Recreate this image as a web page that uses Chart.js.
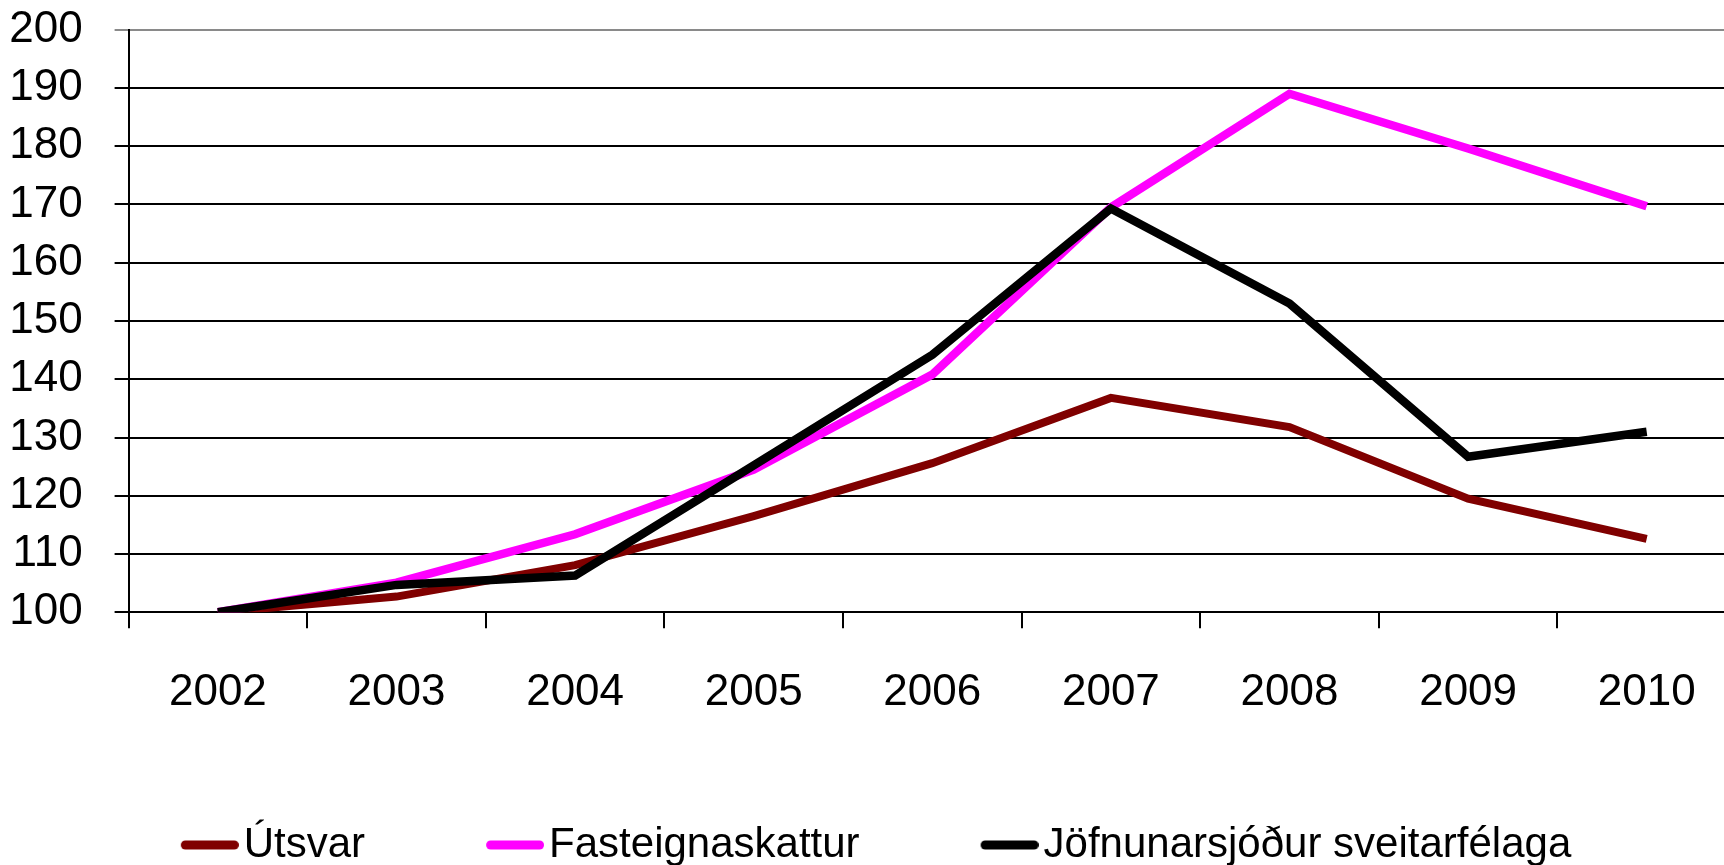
<!DOCTYPE html>
<html>
<head>
<meta charset="utf-8">
<title>Útsvar, fasteignaskattur og Jöfnunarsjóður</title>
<script src="https://cdn.jsdelivr.net/npm/chart.js@4/dist/chart.umd.min.js"></script>
<style>
  html, body { margin: 0; padding: 0; background: #fff; overflow: hidden; }
  #wrap { width: 1724px; height: 865px; overflow: hidden; }
</style>
</head>
<body>
<div id="wrap">
  <canvas id="chart" width="1740" height="876"></canvas>
</div>
<script>
// data (index, 2002 = 100)
var years = ['2002', '2003', '2004', '2005', '2006', '2007', '2008', '2009', '2010'];
var utsvar = [100, 102.7, 108.1, 116.5, 125.6, 136.8, 131.8, 119.5, 112.6];
var fasteignaskattur = [100, 105.1, 113.4, 124.5, 140.8, 169.5, 189.0, 179.6, 169.7];
var jofnunarsjodur = [100, 104.7, 106.3, 125.2, 144.2, 169.3, 153.0, 126.7, 131.0];
var seriesNames = ['Útsvar', 'Fasteignaskattur', 'Jöfnunarsjóður sveitarfélaga'];
var seriesColors = ['#800000', '#ff00ff', '#000000'];

var fontFamily = "'Liberation Sans', Arial, sans-serif";

// legend marker: short thick line, drawn on the right side of the image so
// the text sits close to it
function makeMarker(color) {
    var c = document.createElement('canvas');
    c.width = 90;
    c.height = 12;
    var g = c.getContext('2d');
    g.strokeStyle = color;
    g.lineWidth = 9;
    g.lineCap = 'round';
    g.beginPath();
    g.moveTo(36.5, 6);
    g.lineTo(85.5, 6);
    g.stroke();
    return c;
}
var markers = seriesColors.map(makeMarker);

var chartConfig = {
    type: 'line',
    data: {
        labels: years,
        datasets: [{
            label: seriesNames[0],
            data: utsvar,
            borderColor: seriesColors[0],
            backgroundColor: seriesColors[0],
            borderWidth: 8,
            order: 3
        }, {
            label: seriesNames[1],
            data: fasteignaskattur,
            borderColor: seriesColors[1],
            backgroundColor: seriesColors[1],
            borderWidth: 8.5,
            order: 2
        }, {
            label: seriesNames[2],
            data: jofnunarsjodur,
            borderColor: seriesColors[2],
            backgroundColor: seriesColors[2],
            borderWidth: 8.5,
            order: 1
        }]
    },
    options: {
        responsive: false,
        animation: false,
        events: [],
        devicePixelRatio: 1,
        layout: {
            padding: { left: 0, right: 4, top: 29.7, bottom: 0 }
        },
        elements: {
            line: { tension: 0, borderJoinStyle: 'miter' },
            point: { radius: 0 }
        },
        scales: {
            x: {
                offset: true,
                afterFit: function (scale) { scale.height = 106.7; },
                grid: {
                    offset: true,
                    drawOnChartArea: false,
                    drawTicks: true,
                    tickLength: 16,
                    color: '#000',
                    lineWidth: 2
                },
                border: { color: '#000', width: 2 },
                ticks: {
                    color: '#000',
                    padding: 38,
                    maxRotation: 0,
                    font: { family: fontFamily, size: 44 }
                }
            },
            y: {
                min: 100,
                max: 200,
                afterFit: function (scale) {
                    scale.width = 128.6;
                    scale.paddingTop = 0;
                    scale.paddingBottom = 0;
                },
                grid: {
                    color: function (ctx) {
                        return ctx.tick && ctx.tick.value === 200 ? '#8a8a8a' : '#000';
                    },
                    lineWidth: 2,
                    tickLength: 14
                },
                border: { color: '#000', width: 2 },
                ticks: {
                    stepSize: 10,
                    autoSkip: false,
                    color: '#000',
                    padding: 32,
                    font: { family: fontFamily, size: 44 }
                }
            }
        },
        plugins: {
            tooltip: { enabled: false },
            legend: {
                position: 'bottom',
                labels: {
                    usePointStyle: true,
                    pointStyleWidth: 58,
                    boxHeight: 42,
                    padding: 105,
                    color: '#000',
                    font: { family: fontFamily, size: 42 },
                    sort: function (a, b) { return a.datasetIndex - b.datasetIndex; },
                    generateLabels: function (chart) {
                        var items = Chart.defaults.plugins.legend.labels.generateLabels(chart);
                        items.forEach(function (item) {
                            item.pointStyle = markers[item.datasetIndex];
                        });
                        return items;
                    }
                }
            }
        }
    }
};

var taxChart = new Chart(document.getElementById('chart'), chartConfig);
</script>
</body>
</html>
